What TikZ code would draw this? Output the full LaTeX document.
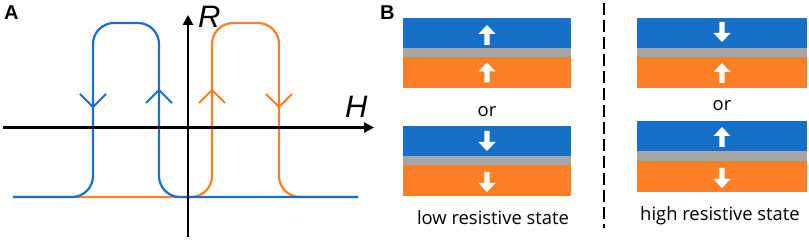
\documentclass[tikz,border=0pt]{standalone}
\usepackage{fontspec}
\setmainfont{Open Sans}
\newfontfamily\arialf{Liberation Sans}
\usetikzlibrary{arrows.meta}
\definecolor{cblue}{HTML}{1670C8}
\definecolor{corange}{HTML}{FF7F27}
\definecolor{cgray}{HTML}{A6A6A6}
\tikzset{
  axisline/.style={line width=2.6pt,-{Triangle[length=10pt,width=10pt]}},
  loopline/.style={line width=2.2pt,rounded corners=21pt},
  vmark/.style={line width=2pt},
  panellabel/.style={font=\arialf\bfseries\fontsize{20}{20}\selectfont,anchor=base west,inner sep=0pt},
  axislabel/.style={font=\arialf\itshape\fontsize{31}{31}\selectfont,anchor=base west,inner sep=0pt},
  bodytext/.style={font=\fontsize{18.4}{20}\selectfont,anchor=base,inner sep=0pt},
  uparrow/.pic={\fill[white] (0,-10) -- (8.5,-1) -- (2.6,-1) -- (2.6,10) -- (-2.6,10) -- (-2.6,-1) -- (-8.5,-1) -- cycle;},
  downarrow/.pic={\fill[white] (0,10) -- (8.5,1) -- (2.6,1) -- (2.6,-10) -- (-2.6,-10) -- (-2.6,1) -- (-8.5,1) -- cycle;},
}
\begin{document}
\begin{tikzpicture}[x=1pt,y=-1pt]
\useasboundingbox (0,0) rectangle (809,243);
% ---------- Panel A ----------
\node[panellabel] (labA) at (4,19.5) {A};
\coordinate (hstart) at (3,127.5);
\coordinate (hend) at (374,127.5);
\coordinate (vstart) at (188,237);
\coordinate (vend) at (188,15);
% loops
\draw[corange,loopline] (13,197) -- (212,197) -- (212,23) -- (279,23) -- (279,197) -- (358,197);
\draw[cblue,loopline] (13,197) -- (93,197) -- (93,23) -- (159,23) -- (159,197) -- (358,197);
% direction marks
\draw[cblue,vmark] (80,94) -- (93,107) -- (106,94);
\draw[cblue,vmark] (146,103) -- (159,90) -- (172,103);
\draw[corange,vmark] (199,103) -- (212,90) -- (225,103);
\draw[corange,vmark] (266,94) -- (279,107) -- (292,94);
% axes
\draw[axisline] (hstart) -- (hend);
\draw[axisline] (vstart) -- (vend);
\node[axislabel] (labR) at (198,28) {R};
\node[axislabel] (labH) at (345,118) {H};
% ---------- Panel B ----------
\node[panellabel] (labB) at (380,20) {B};
\coordinate (dtop) at (604,3);
\coordinate (dbot) at (604,228);
\draw[line width=1.4pt,dash pattern=on 12pt off 5pt] (dtop) -- (dbot);
% left stacks
\fill[cblue] (403,18) rectangle (571,48);
\fill[cgray] (403,48) rectangle (571,57);
\fill[corange] (403,57) rectangle (571,88);
\pic at (487,35) {uparrow};
\pic at (487,72.5) {uparrow};
\node[bodytext] (or1) at (487,117) {or};
\fill[cblue] (403,126) rectangle (571,156);
\fill[cgray] (403,156) rectangle (571,165);
\fill[corange] (403,165) rectangle (571,196);
\pic at (487,141) {downarrow};
\pic at (487,182) {downarrow};
\node[bodytext] (low) at (493,225) {low resistive state};
% right stacks
\fill[cblue] (637,18) rectangle (807,48);
\fill[cgray] (637,48) rectangle (807,57);
\fill[corange] (637,57) rectangle (807,88);
\pic at (722,32) {downarrow};
\pic at (722,73) {uparrow};
\node[bodytext] (or2) at (722,111) {or};
\fill[cblue] (637,121) rectangle (807,151);
\fill[cgray] (637,151) rectangle (807,161);
\fill[corange] (637,161) rectangle (807,192);
\pic at (722,137) {uparrow};
\pic at (722,178) {downarrow};
\node[bodytext] (high) at (720,220.5) {high resistive state};
\end{tikzpicture}
\end{document}
